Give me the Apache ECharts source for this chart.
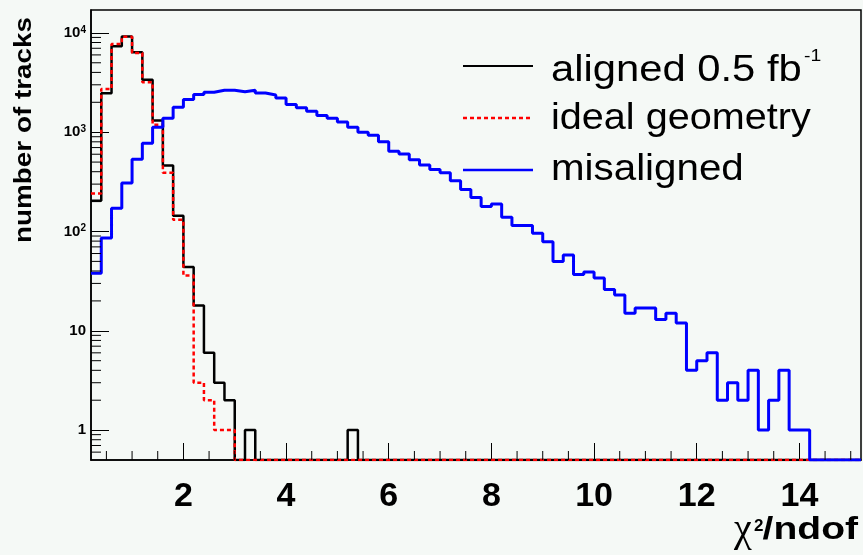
<!DOCTYPE html>
<html>
<head>
<meta charset="utf-8">
<script src="https://cdn.jsdelivr.net/npm/echarts@6/dist/echarts.min.js"></script>
<style>
  html, body { margin: 0; padding: 0; background: #f5f9f6; }
  #chart { width: 863px; height: 555px; }
</style>
</head>
<body>
<div id="chart"></div>
<script>
// Track fit quality histograms: 75 bins of 0.2 in chi2/ndof, starting at 0.2
const binStart = 0.2;
const binWidth = 0.2;

const alignedCounts = [
  204, 2460, 7330, 9200, 6380, 3380, 1310, 463, 144, 44, 18, 6, 3, 2, 0,
  1, 0, 0, 0, 0, 0, 0, 0, 0, 0, 1, 0, 0, 0, 0,
  0, 0, 0, 0, 0, 0, 0, 0, 0, 0, 0, 0, 0, 0, 0,
  0, 0, 0, 0, 0, 0, 0, 0, 0, 0, 0, 0, 0, 0, 0,
  0, 0, 0, 0, 0, 0, 0, 0, 0, 0, 0, 0, 0, 0, 0
];

const idealCounts = [
  242, 2730, 7740, 9150, 6280, 3180, 1190, 391, 131, 36, 3, 2, 1, 1, 0,
  0, 0, 0, 0, 0, 0, 0, 0, 0, 0, 0, 0, 0, 0, 0,
  0, 0, 0, 0, 0, 0, 0, 0, 0, 0, 0, 0, 0, 0, 0,
  0, 0, 0, 0, 0, 0, 0, 0, 0, 0, 0, 0, 0, 0, 0,
  0, 0, 0, 0, 0, 0, 0, 0, 0, 0, 0, 0, 0, 0, 0
];

const misalignedCounts = [
  38, 86, 171, 308, 533, 773, 1120, 1385, 1780, 2135, 2400, 2530, 2650, 2650, 2560,
  2650, 2480, 2370, 2215, 1897, 1767, 1623, 1469, 1380, 1268, 1120, 997, 930, 803, 641,
  604, 529, 468, 420, 390, 325, 265, 220, 179, 189, 139, 115, 115, 96, 79,
  50, 58, 37, 39, 34, 26, 23, 15, 17, 17, 13, 15, 12, 4, 5,
  6, 2, 3, 2, 4, 1, 2, 4, 1, 1, 0, 0, 0, 0, 0
];

const xMajorTicks = [2, 4, 6, 8, 10, 12, 14];
const legendNames = ['aligned 0.5 fb', 'ideal geometry', 'misaligned'];

// axis ranges
const xMin = 0.2, xMax = 15.2;
const yMin = 0.5, yMax = 17000;

const FONT = "'Liberation Sans', Arial, Helvetica, sans-serif";

// Histogram outline: one point per bin low edge, plus the final upper edge.
// Empty bins sit on the lower frame edge of the log axis.
function stepPoints(counts) {
  const pts = counts.map((c, i) => [+(binStart + i * binWidth).toFixed(2), Math.max(c, yMin)]);
  const last = counts[counts.length - 1];
  pts.push([+(binStart + counts.length * binWidth).toFixed(2), Math.max(last, yMin)]);
  return pts;
}

// Secondary ticks: every 0.5 on x (except majors), 2..9 per decade on y
const minorTickData = [];
for (let k = 1; k * 0.5 < xMax; k++) {
  const v = k * 0.5;
  if (v > xMin && v % 2 !== 0) minorTickData.push([v, yMin, 0]);
}
for (let e = -1; e <= 4; e++) {
  for (let m = 2; m <= 9; m++) {
    const v = m * Math.pow(10, e);
    if (v > yMin && v < yMax) minorTickData.push([xMin, v, 1]);
  }
}

const chart = echarts.init(document.getElementById('chart'), null, { renderer: 'canvas' });

const option = {
  animation: false,
  backgroundColor: '#f5f9f6',
  textStyle: { fontFamily: FONT },
  grid: {
    left: 91, top: 10, right: 2, bottom: 95,
    show: true, borderColor: '#000', borderWidth: 1.5,
    backgroundColor: 'transparent',
    outerBoundsMode: 'none'
  },
  xAxis: {
    type: 'value', min: xMin, max: xMax,
    axisLine: { show: true, lineStyle: { color: '#000', width: 1.5 } },
    axisTick: { show: true, inside: true, length: 17, customValues: xMajorTicks, lineStyle: { color: '#000', width: 1 } },
    axisLabel: {
      customValues: xMajorTicks, margin: 20,
      fontSize: 34, fontWeight: 'bold', color: '#000', fontFamily: FONT
    },
    splitLine: { show: false }
  },
  yAxis: {
    type: 'log', logBase: 10, min: yMin, max: yMax,
    axisLine: { show: true, lineStyle: { color: '#000', width: 1.5 } },
    axisTick: { show: true, inside: true, length: 18, lineStyle: { color: '#000', width: 1 } },
    axisLabel: {
      showMinLabel: false, showMaxLabel: false, margin: 5,
      color: '#000', fontSize: 15, fontWeight: 'bold', fontFamily: FONT,
      formatter: function (v) {
        const e = Math.round(Math.log10(v));
        if (e === 0) return '1';
        if (e === 1) return '10';
        return '10{s|' + e + '}';
      },
      rich: {
        s: { fontSize: 10, fontWeight: 'bold', color: '#000', verticalAlign: 'top', fontFamily: FONT, padding: [0, 0, 6, 0] }
      }
    },
    splitLine: { show: false }
  },
  series: [
    {
      name: legendNames[0], type: 'line', step: 'end', symbol: 'none',
      data: stepPoints(alignedCounts),
      lineStyle: { color: '#000', width: 2.5 }, z: 2
    },
    {
      name: legendNames[1], type: 'line', step: 'end', symbol: 'none',
      data: stepPoints(idealCounts),
      lineStyle: { color: '#ff0000', width: 2.5, type: [4, 3] }, z: 3
    },
    {
      name: legendNames[2], type: 'line', step: 'end', symbol: 'none',
      data: stepPoints(misalignedCounts),
      lineStyle: { color: '#0000ff', width: 3 }, z: 4
    },
    {
      type: 'custom', clip: false, z: 5,
      data: minorTickData,
      renderItem: function (params, api) {
        const p = api.coord([api.value(0), api.value(1)]);
        const isX = api.value(2) === 0;
        return {
          type: 'line',
          shape: isX
            ? { x1: p[0], y1: p[1], x2: p[0], y2: p[1] - 9 }
            : { x1: p[0], y1: p[1], x2: p[0] + 10, y2: p[1] },
          style: { stroke: '#000', lineWidth: 1 }
        };
      }
    }
  ],
  graphic: [
    // legend
    { type: 'line', shape: { x1: 463, y1: 66, x2: 533, y2: 66 }, style: { stroke: '#000', lineWidth: 2 } },
    { type: 'line', shape: { x1: 463, y1: 118, x2: 533, y2: 118 }, style: { stroke: '#ff0000', lineWidth: 2.5, lineDash: [4, 3] } },
    { type: 'line', shape: { x1: 463, y1: 170, x2: 533, y2: 170 }, style: { stroke: '#0000ff', lineWidth: 2.5 } },
    { type: 'text', x: 551, y: 71, scaleX: 1.16,
      style: { text: legendNames[0], font: '36px ' + FONT, fill: '#000', align: 'left', verticalAlign: 'middle' } },
    { type: 'text', x: 804, y: 56, scaleX: 1.14,
      style: { text: '-1', font: '17px ' + FONT, fill: '#000', align: 'left', verticalAlign: 'middle' } },
    { type: 'text', x: 551, y: 119, scaleX: 1.1,
      style: { text: legendNames[1], font: '36px ' + FONT, fill: '#000', align: 'left', verticalAlign: 'middle' } },
    { type: 'text', x: 551, y: 170, scaleX: 1.12,
      style: { text: legendNames[2], font: '36px ' + FONT, fill: '#000', align: 'left', verticalAlign: 'middle' } },
    // y axis title
    { type: 'text', x: 25, y: 130, rotation: Math.PI / 2, scaleX: 1.21,
      style: { text: 'number of tracks', font: 'bold 23px ' + FONT, fill: '#000', align: 'center', verticalAlign: 'middle' } },
    // x axis title
    { type: 'text', x: 734, y: 530,
      style: { text: 'χ', font: "40px 'Liberation Serif', 'DejaVu Serif', serif", fill: '#000', align: 'left', verticalAlign: 'middle' } },
    { type: 'text', x: 754, y: 526,
      style: { text: '2', font: 'bold 17px ' + FONT, fill: '#000', align: 'left', verticalAlign: 'middle' } },
    { type: 'text', x: 858, y: 530, scaleX: 1.22,
      style: { text: '/ndof', font: 'bold 32px ' + FONT, fill: '#000', align: 'right', verticalAlign: 'middle' } }
  ]
};

chart.setOption(option);
</script>
</body>
</html>
